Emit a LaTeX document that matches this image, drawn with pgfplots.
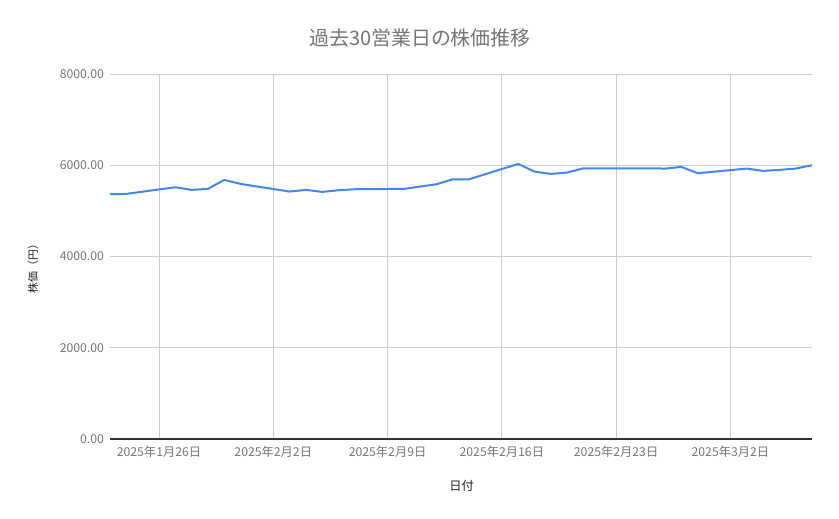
\documentclass[border=0pt]{standalone}
\usepackage{pgfplots}
\pgfplotsset{compat=1.18}
\usepackage{fontspec}
\setmainfont{Noto Sans CJK JP}
\definecolor{lineblue}{HTML}{4285F4}
\definecolor{gridgray}{HTML}{CCCCCC}
\definecolor{ticktext}{HTML}{757575}
\definecolor{labeltext}{HTML}{222222}

% business days, x = days after 2025-01-23
\pgfplotstableread{
day price
0 5365
1 5372
4 5518
5 5460
6 5482
7 5679
8 5591
11 5423
12 5460
13 5416
14 5452
15 5474
18 5482
20 5584
21 5693
22 5693
25 6029
26 5861
27 5810
28 5839
29 5934
33 5934
34 5927
35 5963
36 5825
39 5927
40 5876
41 5898
42 5927
43 6000
}\prices

\begin{document}
\begin{tikzpicture}[x=1bp,y=1bp]
\path[use as bounding box] (0,0) rectangle (839,519);
\begin{axis}[
    at={(110bp,80bp)}, anchor=south west,
    width=702bp, height=365bp, scale only axis,
    xmin=0, xmax=43, ymin=0, ymax=8000,
    xtick={3,10,17,24,31,38},
    xticklabels={2025年1月26日,2025年2月2日,2025年2月9日,2025年2月16日,2025年2月23日,2025年3月2日},
    ytick={0,2000,4000,6000,8000},
    /pgf/number format/assume math mode=true,
    /pgf/number format/fixed,
    /pgf/number format/fixed zerofill,
    /pgf/number format/precision=2,
    /pgf/number format/1000 sep={},
    ticklabel style={font=\fontsize{12.3}{14}\selectfont, text=ticktext},
    xticklabel style={yshift=-3.5bp},
    yticklabel style={xshift=-2.5bp},
    axis line style={draw=none},
    tick style={draw=none},
    grid=major,
    major grid style={draw=gridgray, line width=0.8bp},
    extra y ticks={0},
    extra y tick labels={},
    extra y tick style={grid=major, major grid style={draw=black!80, line width=1.1bp}},
    xlabel={日付},
    ylabel={株価（円）},
    xlabel style={font=\fontsize{12.3}{14}\selectfont, text=labeltext, at={(axis description cs:0.501,-0.129)}, anchor=center},
    ylabel style={font=\fontsize{11}{13}\selectfont, text=labeltext, at={(axis description cs:-0.1097,0.474)}, anchor=center, rotate=0},
    clip=false,
]
\addplot[draw=lineblue, line width=2bp, line join=round] table[x=day, y=price] {\prices};
\end{axis}
\node[font=\fontsize{20}{23}\selectfont, text=ticktext] at (420,481) {過去30営業日の株価推移};
\end{tikzpicture}
\end{document}
